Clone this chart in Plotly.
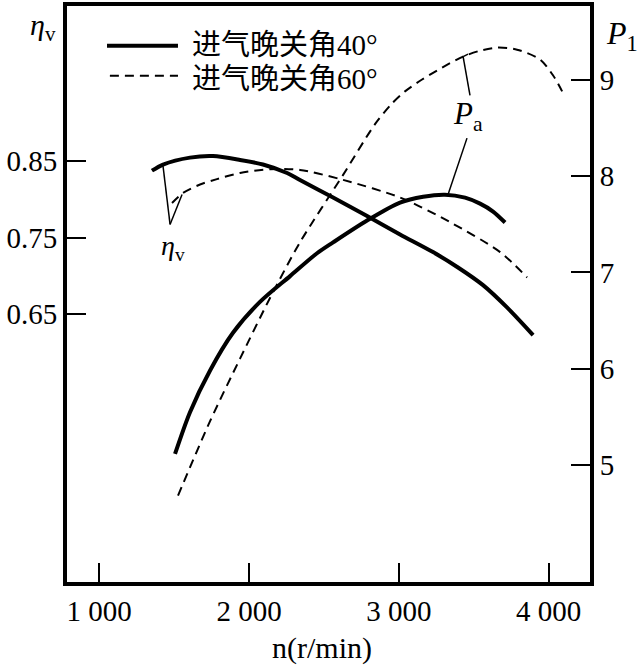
import plotly.graph_objects as go

# ---- data ----
n_eta40 = [1352, 1426, 1606, 1760, 1940, 2093, 2254, 2340, 2561, 2788, 3008, 3228, 3395, 3562, 3722, 3896]
eta40 = [0.837, 0.845, 0.854, 0.856, 0.851, 0.845, 0.834, 0.825, 0.802, 0.778, 0.754, 0.731, 0.711, 0.688, 0.659, 0.623]

n_eta60 = [1486, 1559, 1673, 1786, 1940, 2140, 2340, 2628, 3008, 3342, 3676, 3856]
eta60 = [0.795, 0.808, 0.819, 0.826, 0.834, 0.839, 0.838, 0.825, 0.802, 0.770, 0.731, 0.698]

n_pa40 = [1506, 1606, 1740, 1893, 2073, 2274, 2454, 2561, 2788, 3008, 3162, 3308, 3442, 3542, 3629, 3709]
pa40 = [5.117, 5.550, 5.983, 6.374, 6.694, 6.962, 7.199, 7.312, 7.539, 7.725, 7.786, 7.807, 7.776, 7.714, 7.632, 7.518]

n_pa60 = [1526, 1740, 1940, 2140, 2340, 2628, 2841, 2955, 3041, 3155, 3289, 3429, 3542, 3656, 3789, 3943, 4030, 4090]
pa60 = [4.684, 5.457, 6.106, 6.735, 7.312, 8.013, 8.539, 8.755, 8.879, 9.002, 9.126, 9.240, 9.301, 9.333,
        9.312, 9.209, 9.044, 8.879]

x_ticks = [1000, 2000, 3000, 4000]
x_ticktext = ["1 000", "2 000", "3 000", "4 000"]
eta_ticks = [0.65, 0.75, 0.85]
eta_ticktext = ["0.65", "0.75", "0.85"]
p_ticks = [5, 6, 7, 8, 9]
p_ticktext = ["5", "6", "7", "8", "9"]

legend_names = ["进气晚关角40°", "进气晚关角60°"]

SERIF = "Liberation Serif"
MIXED = "'Liberation Serif', 'Noto Sans CJK SC'"

fig = go.Figure()
solid = dict(color="black", width=4)
dashed = dict(color="black", width=2, dash="9px,6px")
sm = 0.8

fig.add_trace(go.Scatter(x=n_eta40, y=eta40, mode="lines", line=dict(**solid, shape="spline", smoothing=sm),
                         name=legend_names[0], yaxis="y"))
fig.add_trace(go.Scatter(x=n_eta60, y=eta60, mode="lines", line=dict(**dashed, shape="spline", smoothing=sm),
                         name=legend_names[1], yaxis="y"))
fig.add_trace(go.Scatter(x=n_pa40, y=pa40, mode="lines", line=dict(**solid, shape="spline", smoothing=sm),
                         name=legend_names[0], yaxis="y2"))
fig.add_trace(go.Scatter(x=n_pa60, y=pa60, mode="lines", line=dict(**dashed, shape="spline", smoothing=sm),
                         name=legend_names[1], yaxis="y2"))

tickfont = dict(family=SERIF, size=29, color="black")

fig.update_layout(
    width=640, height=669,
    margin=dict(l=67, r=50, t=2, b=87),
    paper_bgcolor="white", plot_bgcolor="white",
    showlegend=False,
    font=dict(family=SERIF, color="black"),
    xaxis=dict(range=[785, 4276], tickvals=x_ticks, ticktext=x_ticktext, ticks="inside", ticklen=19,
               tickwidth=2, tickcolor="black", showline=True, linecolor="black", linewidth=4, mirror=True,
               showgrid=False, zeroline=False, tickfont=tickfont),
    yaxis=dict(range=[0.3015, 1.0514], tickvals=eta_ticks, ticktext=eta_ticktext, ticks="inside", ticklen=19,
               tickwidth=2, tickcolor="black", showline=True, linecolor="black", linewidth=4, mirror=True,
               showgrid=False, zeroline=False, tickfont=tickfont),
    yaxis2=dict(range=[3.788, 9.765], tickvals=p_ticks, ticktext=p_ticktext, ticks="inside", ticklen=19,
                tickwidth=2, tickcolor="black", showline=True, linecolor="black", linewidth=4,
                overlaying="y", side="right", showgrid=False, zeroline=False, tickfont=tickfont),
)

# legend drawn by hand (long line samples like the reference)
fig.add_shape(type="line", xref="paper", yref="paper", x0=0.0765, x1=0.2122, y0=0.931, y1=0.931,
              line=dict(color="black", width=4))
fig.add_shape(type="line", xref="paper", yref="paper", x0=0.082, x1=0.2122, y0=0.879, y1=0.879,
              line=dict(color="black", width=2, dash="9px,6px"))
for name, yy in zip(legend_names, [0.933, 0.873]):
    fig.add_annotation(xref="paper", yref="paper", x=0.235, y=yy, xanchor="left", yanchor="middle",
                       showarrow=False, text=name,
                       font=dict(family=MIXED, size=29, color="black"))

# axis labels
fig.add_annotation(xref="paper", yref="paper", x=-0.046, y=0.963, xanchor="center", yanchor="middle",
                   showarrow=False, text="<i>η</i><sub>v</sub>", font=dict(family=SERIF, size=30, color="black"))
fig.add_annotation(xref="paper", yref="paper", x=1.061, y=0.948, xanchor="center", yanchor="middle",
                   showarrow=False, text="<i>P</i><sub>1</sub>", font=dict(family=SERIF, size=32, color="black"))
fig.add_annotation(xref="paper", yref="paper", x=0.4876, y=-0.114, xanchor="center", yanchor="middle",
                   showarrow=False, text="n(r/min)", font=dict(family=SERIF, size=30, color="black"))

# curve labels with leader lines
fig.add_annotation(xref="x", yref="y", x=1493, y=0.737, xanchor="center", yanchor="middle",
                   showarrow=False, text="<i>η</i><sub>v</sub>", font=dict(family=SERIF, size=28, color="black"))
fig.add_annotation(xref="x", yref="y2", x=3462, y=8.621, xanchor="center", yanchor="middle",
                   showarrow=False, text="<i>P</i><sub>a</sub>", font=dict(family=SERIF, size=31, color="black"))
leader = dict(color="black", width=1.5)
fig.add_shape(type="line", xref="x", yref="y", x0=1426, y0=0.843, x1=1473, y1=0.767, line=leader)
fig.add_shape(type="line", xref="x", yref="y", x0=1473, y0=0.767, x1=1553, y1=0.806, line=leader)
fig.add_shape(type="line", xref="x", yref="y2", x0=3429, y0=9.240, x1=3475, y1=8.838, line=leader)
fig.add_shape(type="line", xref="x", yref="y2", x0=3429, y0=9.240, x1=3462, y1=9.265, line=leader)
fig.add_shape(type="line", xref="x", yref="y2", x0=3455, y0=8.394, x1=3328, y1=7.807, line=leader)

fig.write_html("out.html")
